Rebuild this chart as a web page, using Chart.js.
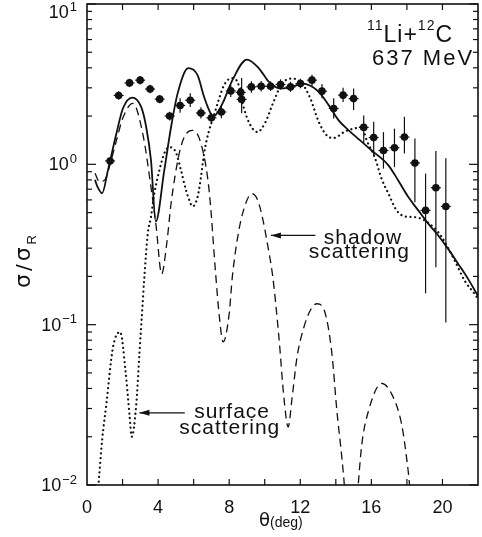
<!DOCTYPE html>
<html>
<head>
<meta charset="utf-8">
<script src="https://cdn.jsdelivr.net/npm/chart.js@4"></script>
<style>
  body { margin: 0; background: #fff; }
  canvas { display: block; }
</style>
</head>
<body>
<canvas id="myChart" width="482" height="537"></canvas>
<script>
// full calculation (solid)
const solidX = [0.45, 0.6, 0.85, 1.18, 1.65, 2.02, 2.54, 3.05, 3.33, 3.6, 3.87, 4.35, 4.73, 5.1, 5.7, 6.22, 6.59, 6.87, 7.1, 7.62, 8.18, 9.0, 9.68, 10.24, 10.89, 11.54, 12.1, 12.57, 13.04, 13.6, 14.16, 14.72, 15.37, 16.02, 16.96, 17.52, 18.08, 18.64, 19.2, 19.76, 20.32, 20.88, 21.44, 22.0];
const solidY = [0.80, 0.72, 0.66, 0.92, 1.55, 2.23, 2.61, 2.28, 1.71, 1.06, 0.44, 0.92, 1.71, 2.77, 3.98, 3.6, 2.63, 2.18, 1.98, 2.39, 3.35, 4.5, 3.96, 3.27, 2.97, 3.04, 3.19, 3.09, 2.83, 2.34, 1.88, 1.63, 1.41, 1.22, 0.986, 0.79, 0.625, 0.516, 0.427, 0.36, 0.297, 0.24, 0.193, 0.151];

// shadow scattering (dashed)
const shadowX = [0.45, 0.7, 1.0, 1.3, 1.65, 2.02, 2.58, 3.14, 3.6, 3.89, 4.2, 4.5, 4.73, 5.19, 5.5, 5.92, 6.41, 6.87, 7.25, 7.43, 7.66, 8.0, 8.18, 8.55, 8.93, 9.27, 9.6, 9.9, 10.15, 10.45, 10.8, 11.08, 11.32, 11.54, 11.82, 12.2, 12.57, 12.94, 13.41, 13.78, 14.06, 14.34, 14.5, 14.85, 15.24, 15.46, 15.84, 16.58, 17.14, 17.7, 17.98, 18.17, 18.5];
const shadowY = [0.88, 0.78, 0.8, 1.0, 1.4, 1.95, 2.4, 1.55, 0.72, 0.41, 0.207, 0.33, 0.57, 1.17, 1.5, 1.63, 1.35, 0.69, 0.2, 0.117, 0.078, 0.117, 0.2, 0.39, 0.57, 0.656, 0.6, 0.45, 0.32, 0.2, 0.083, 0.035, 0.023, 0.035, 0.063, 0.096, 0.123, 0.135, 0.117, 0.066, 0.029, 0.0148, 0.0093, 0.002, 0.0093, 0.0178, 0.029, 0.043, 0.037, 0.024, 0.0148, 0.0093, 0.002];

// surface scattering (dotted)
const surfaceX = [0.66, 0.85, 1.09, 1.46, 1.87, 2.17, 2.39, 2.52, 2.77, 2.95, 3.1, 3.23, 3.42, 3.6, 3.79, 4.07, 4.35, 4.63, 5.0, 5.29, 5.57, 5.75, 5.94, 6.22, 6.41, 6.59, 6.85, 7.1, 7.4, 7.7, 8.15, 8.5, 8.8, 9.1, 9.58, 10.05, 10.42, 10.98, 11.54, 12.1, 12.57, 13.04, 13.5, 13.88, 14.5, 15.2, 15.46, 15.74, 16.21, 16.58, 16.96, 17.42, 17.9, 18.45, 19.0, 19.57, 19.94, 20.69, 21.25, 21.82, 22.0];
const surfaceY = [0.0105, 0.019, 0.032, 0.072, 0.09, 0.051, 0.0275, 0.02, 0.0316, 0.066, 0.12, 0.2, 0.37, 0.47, 0.66, 0.917, 1.17, 1.28, 1.19, 0.917, 0.69, 0.6, 0.546, 0.625, 0.83, 1.17, 1.6, 1.95, 2.5, 3.1, 3.45, 3.2, 2.3, 1.84, 1.59, 1.84, 2.34, 3.19, 3.43, 3.19, 2.57, 1.84, 1.51, 1.46, 1.6, 1.69, 1.71, 1.41, 1.09, 0.81, 0.656, 0.516, 0.473, 0.468, 0.447, 0.398, 0.355, 0.251, 0.188, 0.155, 0.145];

// measured points with error bars
const dataX = [1.3, 1.78, 2.39, 2.99, 3.55, 4.09, 4.65, 5.24, 5.81, 6.41, 7.0, 7.56, 8.09, 8.65, 8.7, 9.25, 9.8, 10.33, 10.89, 11.45, 12.01, 12.66, 13.22, 13.88, 14.41, 15.0, 15.57, 16.13, 16.68, 17.3, 17.86, 18.45, 19.05, 19.63, 20.19];
const dataY = [1.05, 2.69, 3.22, 3.35, 2.95, 2.55, 2.0, 2.33, 2.51, 2.09, 1.95, 2.12, 2.87, 2.81, 2.54, 3.04, 3.07, 3.07, 3.15, 3.04, 3.19, 3.35, 2.86, 2.23, 2.70, 2.57, 1.70, 1.47, 1.22, 1.27, 1.48, 1.02, 0.516, 0.715, 0.546];
const dataLo = [0.99, 2.53, 3.03, 3.15, 2.78, 2.40, 1.88, 2.10, 2.28, 1.93, 1.82, 1.94, 2.63, 2.60, 2.08, 2.80, 2.85, 2.87, 2.93, 2.83, 2.98, 3.08, 2.58, 1.93, 2.45, 2.18, 1.35, 1.14, 0.94, 0.96, 1.17, 0.58, 0.157, 0.228, 0.103];
const dataHi = [1.11, 2.86, 3.42, 3.56, 3.14, 2.71, 2.13, 2.58, 2.78, 2.27, 2.09, 2.34, 3.12, 3.03, 3.45, 3.30, 3.31, 3.29, 3.39, 3.27, 3.42, 3.62, 3.17, 2.58, 3.0, 2.97, 2.02, 1.84, 1.59, 1.67, 1.98, 1.45, 0.875, 1.21, 1.09];
const dataXErr = 0.28;

const xTicks = [0, 4, 8, 12, 16, 20];
const yDecades = [-2, -1, 0, 1];

const FONT = '"Liberation Sans", Arial, sans-serif';
const GREEK = '"DejaVu Sans", sans-serif';
const INK = "#111";

function toPoints(xs, ys) {
  return xs.map((x, i) => ({ x: x, y: ys[i] }));
}

function line(ctx, x1, y1, x2, y2) {
  ctx.beginPath();
  ctx.moveTo(x1, y1);
  ctx.lineTo(x2, y2);
  ctx.stroke();
}

// draws text pieces left to right: [text, size, dy, font]
function drawRun(ctx, parts, x, y) {
  parts.forEach((p) => {
    ctx.font = p[1] + "px " + (p[3] || FONT);
    ctx.fillText(p[0], x, y + p[2]);
    x += ctx.measureText(p[0]).width;
  });
}

function arrow(ctx, x1, y1, x2, y2) {
  line(ctx, x1, y1, x2, y2);
  const a = Math.atan2(y2 - y1, x2 - x1);
  ctx.beginPath();
  ctx.moveTo(x2, y2);
  ctx.lineTo(x2 - 10 * Math.cos(a) + 3 * Math.sin(a), y2 - 10 * Math.sin(a) - 3 * Math.cos(a));
  ctx.lineTo(x2 - 10 * Math.cos(a) - 3 * Math.sin(a), y2 - 10 * Math.sin(a) + 3 * Math.cos(a));
  ctx.closePath();
  ctx.fill();
}

const figurePlugin = {
  id: "figure",
  beforeDatasetsDraw(chart) {
    const { ctx, scales: { x, y } } = chart;
    ctx.save();
    ctx.strokeStyle = INK;
    ctx.lineWidth = 1.2;
    dataX.forEach((xv, i) => {
      const px = x.getPixelForValue(xv);
      const py = y.getPixelForValue(dataY[i]);
      line(ctx, px, y.getPixelForValue(dataLo[i]), px, y.getPixelForValue(dataHi[i]));
      line(ctx, x.getPixelForValue(xv - dataXErr), py, x.getPixelForValue(xv + dataXErr), py);
    });
    ctx.restore();
  },
  afterDraw(chart) {
    const { ctx, chartArea: a, scales: { x, y } } = chart;
    ctx.save();
    ctx.strokeStyle = INK;
    ctx.fillStyle = INK;

    // frame
    ctx.lineWidth = 1.6;
    ctx.strokeRect(a.left, a.top, a.right - a.left, a.bottom - a.top);

    // inward ticks
    ctx.lineWidth = 1.2;
    for (let v = 2; v < 22; v += 2) {
      const px = x.getPixelForValue(v);
      line(ctx, px, a.bottom, px, a.bottom - 6);
      line(ctx, px, a.top, px, a.top + 6);
    }
    yDecades.forEach((d) => {
      for (let m = 1; m <= 9; m++) {
        const v = m * Math.pow(10, d);
        if (v > 10.001) continue;
        const py = y.getPixelForValue(v);
        const len = m === 1 ? 9 : 5;
        line(ctx, a.left, py, a.left + len, py);
        line(ctx, a.right, py, a.right - len, py);
      }
    });

    // x tick labels
    ctx.textAlign = "center";
    ctx.textBaseline = "middle";
    ctx.font = "18px " + FONT;
    xTicks.forEach((v) => ctx.fillText(String(v), x.getPixelForValue(v), 508));

    // y tick labels 10^n
    ctx.textAlign = "right";
    yDecades.forEach((d) => {
      const py = Math.max(y.getPixelForValue(Math.pow(10, d)) + 1, 13);
      const ex = d < 0 ? "\u2212" + Math.abs(d) : String(d);
      ctx.font = "13px " + FONT;
      const w = ctx.measureText(ex).width;
      ctx.fillText(ex, a.left - 10, py - 6);
      ctx.font = "18px " + FONT;
      ctx.fillText("10", a.left - 11 - w, py);
    });

    // axis titles
    ctx.textAlign = "left";
    ctx.textBaseline = "alphabetic";
    drawRun(ctx, [["\u03b8", 18, 0, GREEK], ["(deg)", 14, 1]], 259, 526);

    ctx.save();
    ctx.translate(30, 288);
    ctx.rotate(-Math.PI / 2);
    ctx.letterSpacing = "3px";
    drawRun(ctx, [["\u03c3", 22, 0, GREEK], ["/", 20, 0, GREEK], ["\u03c3", 22, 0, GREEK], ["R", 13, 6]], 0, 0);
    ctx.restore();

    // reaction label
    ctx.letterSpacing = "1px";
    drawRun(ctx, [["11", 14, -12], ["Li+", 23, 0], ["12", 14, -12], ["C", 23, 0]], 367, 42);
    ctx.letterSpacing = "2px";
    drawRun(ctx, [["637", 22, 0], [" MeV", 22, 0]], 372, 65);

    // curve annotations
    ctx.letterSpacing = "1px";
    ctx.font = "21px " + FONT;
    ctx.fillText("shadow", x.getPixelForValue(13.32), y.getPixelForValue(0.319));
    ctx.fillText("scattering", x.getPixelForValue(12.48), y.getPixelForValue(0.262));
    ctx.fillText("surface", x.getPixelForValue(6.03), y.getPixelForValue(0.0263));
    ctx.fillText("scattering", x.getPixelForValue(5.19), y.getPixelForValue(0.0208));
    ctx.letterSpacing = "0px";

    ctx.lineWidth = 1.3;
    arrow(ctx, x.getPixelForValue(12.85), y.getPixelForValue(0.36), x.getPixelForValue(10.35), y.getPixelForValue(0.36));
    arrow(ctx, x.getPixelForValue(5.5), y.getPixelForValue(0.0282), x.getPixelForValue(2.95), y.getPixelForValue(0.0282));

    ctx.restore();
  },
};

const ctx = document.getElementById("myChart");

const chart = new Chart(ctx, {
  type: "scatter",
  data: {
    datasets: [
      {
        data: toPoints(dataX, dataY),
        pointRadius: 3.8,
        pointBackgroundColor: INK,
        pointBorderWidth: 0,
        showLine: false,
      },
      {
        data: toPoints(solidX, solidY),
        showLine: true,
        borderColor: INK,
        borderWidth: 1.8,
        pointRadius: 0,
        cubicInterpolationMode: "monotone",
      },
      {
        data: toPoints(shadowX, shadowY),
        showLine: true,
        borderColor: INK,
        borderWidth: 1.3,
        borderDash: [8, 5],
        pointRadius: 0,
        cubicInterpolationMode: "monotone",
      },
      {
        data: toPoints(surfaceX, surfaceY),
        showLine: true,
        borderColor: INK,
        borderWidth: 2.2,
        borderDash: [0.1, 4.6],
        borderCapStyle: "round",
        pointRadius: 0,
        cubicInterpolationMode: "monotone",
      },
    ],
  },
  options: {
    responsive: false,
    animation: false,
    layout: {
      padding: { left: 87, right: 3, top: 4, bottom: 52 },
    },
    scales: {
      x: { type: "linear", min: 0, max: 22, display: false },
      y: { type: "logarithmic", min: 0.01, max: 10, display: false },
    },
    plugins: {
      legend: { display: false },
      tooltip: { enabled: false },
    },
  },
  plugins: [figurePlugin],
});
</script>
</body>
</html>
